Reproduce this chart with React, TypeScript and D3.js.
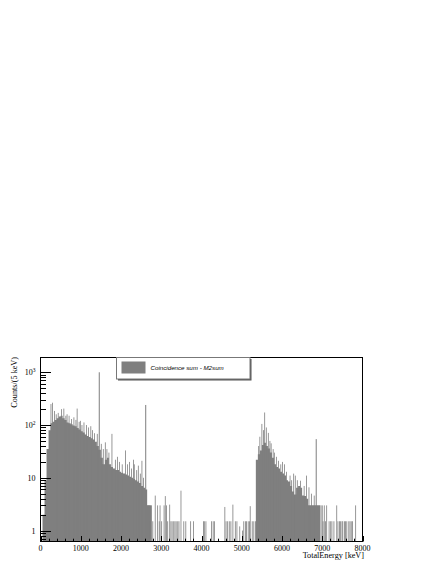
import { useEffect, useRef } from 'react'
import * as d3 from 'd3'

// ── data ──────────────────────────────────────────────────────────────────────
// continuum, 50 keV steps: [bin start keV, counts per 5 keV]
const BULK_LOW: [number, number][] = [
  [50, 2], [100, 9], [150, 35], [200, 80], [250, 108], [300, 115], [350, 125],
  [400, 135], [450, 145], [500, 150], [550, 135], [600, 125], [650, 112],
  [700, 108], [750, 104], [800, 98], [850, 95], [900, 88], [950, 82],
  [1000, 76], [1050, 72], [1100, 66], [1150, 62], [1200, 59], [1250, 56],
  [1300, 53], [1350, 48], [1400, 40], [1450, 34], [1500, 24], [1550, 18],
  [1600, 22], [1650, 24], [1700, 18], [1750, 16], [1800, 15], [1850, 14],
  [1900, 14], [1950, 13], [2000, 12.5], [2050, 12], [2100, 11.5], [2150, 11],
  [2200, 10.5], [2250, 10], [2300, 9.5], [2350, 9], [2400, 8.5], [2450, 8],
  [2500, 7], [2550, 6.5], [2600, 6], [2650, 3], [2700, 3],
]
const BULK_HIGH: [number, number][] = [
  [5350, 22], [5400, 28], [5450, 33], [5500, 42], [5550, 46], [5600, 40],
  [5650, 36], [5700, 30], [5750, 24], [5800, 18], [5850, 16], [5900, 15],
  [5950, 13], [6000, 12], [6050, 11], [6100, 9], [6150, 8.5], [6200, 7],
  [6250, 5.5], [6300, 4.8], [6350, 6.5], [6400, 7], [6450, 6.5], [6500, 4.6],
  [6550, 4.5], [6600, 4], [6650, 3], [6700, 3], [6750, 3], [6800, 3],
  [6850, 3], [6900, 3],
]
// strong lines (K-40, Tl-208, alpha)
const LINES: [number, number][] = [[1460, 1000], [2614, 240], [6850, 54]]
// single-bin fluctuations: [keV, counts]
const SPIKES: [number, number][] = [
  [250, 250], [290, 265], [340, 185], [380, 160], [430, 170], [510, 200],
  [570, 205], [620, 150], [650, 160], [700, 150], [760, 130], [820, 140],
  [870, 125], [900, 205], [950, 115], [980, 120], [1020, 100], [1070, 112],
  [1130, 100], [1180, 90], [1240, 95], [1280, 80], [1330, 70], [1400, 68],
  [1500, 44], [1550, 35], [1600, 47], [1640, 35], [1690, 30], [1765, 68],
  [1850, 22], [1900, 25], [1950, 20], [2020, 18], [2100, 33], [2150, 18],
  [2200, 20], [2250, 15], [2300, 22], [2320, 18], [2380, 14], [2420, 17],
  [2470, 12], [2510, 21], [2550, 10],
  [2660, 3], [2690, 3], [2720, 1.5], [2750, 3], [2780, 1.5], [2840, 4.6],
  [2900, 3], [2940, 1.5], [2960, 3], [3000, 1.5], [3060, 3], [3090, 4.5],
  [3120, 3], [3150, 1.5], [3200, 3.1], [3230, 1.5], [3260, 1.5], [3300, 1.5],
  [3330, 1.5], [3360, 1.5], [3400, 1.5], [3430, 1.5], [3480, 5.7], [3550, 1.5],
  [3600, 1.5], [3720, 1.5], [3790, 1.5], [4040, 1.5], [4060, 1.5], [4100, 1.5],
  [4240, 1.5], [4280, 1.5], [4310, 1.5], [4570, 2.8], [4600, 1.5], [4640, 1.5],
  [4680, 1.5], [4720, 1.5], [4770, 3.1], [4830, 1.5], [4870, 1.5], [4940, 1.2],
  [5010, 1], [5040, 1.5], [5080, 1.5], [5110, 1.5], [5150, 1.5], [5180, 1.5],
  [5200, 2.9], [5250, 1.5], [5290, 1.5], [5330, 1.5],
  [5410, 40], [5440, 60], [5490, 105], [5530, 80], [5560, 173], [5600, 90],
  [5650, 71], [5690, 50], [5720, 45], [5770, 35], [5800, 30], [5850, 25],
  [5900, 21], [5960, 18], [6000, 20], [6050, 18], [6100, 13], [6190, 11],
  [6230, 9], [6280, 12], [6320, 11], [6370, 9], [6450, 8.8], [6540, 7],
  [6600, 11], [6660, 6.6], [6720, 5], [6790, 4.6],
  [6960, 3], [6990, 3], [7010, 1.5], [7040, 3], [7070, 1.5], [7100, 3],
  [7160, 1.5], [7200, 1.5], [7230, 1.5], [7280, 1.5], [7350, 3], [7380, 1.5],
  [7420, 1.5], [7440, 1.5], [7480, 1.5], [7500, 1.5], [7540, 1.5], [7570, 1.5],
  [7600, 1.5], [7650, 1.5], [7680, 1.5], [7710, 1.5], [7740, 1.5], [7820, 3],
]
const X_TICKS = [0, 1000, 2000, 3000, 4000, 5000, 6000, 7000, 8000]
const Y_DECADES = [0, 1, 2, 3]
const LEGEND_LABEL = 'Coincidence sum - M2sum'

const BULK_STEP = 50
const SPIKE_W = 20
const LINE_W = 25
const FILL = '#7f7f7f'
const SERIF = '"Liberation Serif", "Times New Roman", serif'

export default function App() {
  const svgRef = useRef<SVGSVGElement>(null)

  useEffect(() => {
    if (!svgRef.current) return
    const W = 436, H = 564
    const frame = { left: 40.5, right: 362.5, top: 357.5, bottom: 541.5 }

    const svg = d3.select(svgRef.current)
    svg.selectAll('*').remove()
    svg.attr('width', W).attr('height', H)

    const x = d3.scaleLinear().domain([0, 8000]).range([frame.left, frame.right])
    const y = d3.scaleLog().domain([0.62, 1905]).range([frame.bottom, frame.top])

    svg.append('defs').append('clipPath').attr('id', 'plotclip')
      .append('rect')
      .attr('x', frame.left).attr('y', frame.top)
      .attr('width', frame.right - frame.left).attr('height', frame.bottom - frame.top)

    const g = svg.append('g').attr('clip-path', 'url(#plotclip)')

    // continuum as a step area
    const area = d3.area<[number, number]>()
      .x(d => x(d[0]))
      .y0(frame.bottom)
      .y1(d => y(d[1]))
      .curve(d3.curveStepAfter)

    ;[BULK_LOW, BULK_HIGH].forEach(seg => {
      const last = seg[seg.length - 1]
      g.append('path')
        .datum([...seg, [last[0] + BULK_STEP, last[1]] as [number, number]])
        .attr('d', area)
        .attr('fill', FILL)
    })

    // single bins
    SPIKES.forEach(([e, v]) => {
      g.append('rect')
        .attr('x', x(e)).attr('width', x(e + SPIKE_W) - x(e))
        .attr('y', y(v)).attr('height', frame.bottom - y(v))
        .attr('fill', FILL)
    })
    LINES.forEach(([e, v]) => {
      g.append('rect')
        .attr('x', x(e) - (x(LINE_W) - x(0)) / 2).attr('width', x(LINE_W) - x(0))
        .attr('y', y(v)).attr('height', frame.bottom - y(v))
        .attr('fill', FILL)
    })

    // frame
    svg.append('rect')
      .attr('x', frame.left).attr('y', frame.top)
      .attr('width', frame.right - frame.left).attr('height', frame.bottom - frame.top)
      .attr('fill', 'none').attr('stroke', '#000').attr('stroke-width', 1)

    // x ticks (inside, pointing up)
    d3.range(0, 8001, 200).forEach(t => {
      const major = t % 1000 === 0
      svg.append('line')
        .attr('x1', Math.round(x(t)) + 0.5).attr('x2', Math.round(x(t)) + 0.5)
        .attr('y1', frame.bottom).attr('y2', frame.bottom - (major ? 5.5 : 2.8))
        .attr('stroke', '#000').attr('stroke-width', 1)
    })
    X_TICKS.forEach(t => {
      svg.append('text')
        .attr('x', x(t)).attr('y', 550.5)
        .attr('text-anchor', 'middle')
        .attr('font-family', SERIF).attr('font-size', '8px').attr('fill', '#000')
        .text(t)
    })

    // y ticks (log, inside, pointing right)
    const [lo, hi] = y.domain()
    for (let p = -1; p <= 3; p++) {
      for (let k = 1; k <= 9; k++) {
        const v = k * Math.pow(10, p)
        if (v < lo || v > hi) continue
        const yy = Math.round(y(v)) + 0.5
        svg.append('line')
          .attr('x1', frame.left).attr('x2', frame.left + (k === 1 ? 10.5 : 5.5))
          .attr('y1', yy).attr('y2', yy)
          .attr('stroke', '#000').attr('stroke-width', 1)
      }
    }
    Y_DECADES.forEach(p => {
      const t = svg.append('text')
        .attr('x', 35.5).attr('y', y(Math.pow(10, p)) + 3)
        .attr('text-anchor', 'end')
        .attr('font-family', SERIF).attr('font-size', '8px').attr('fill', '#000')
      if (p < 2) {
        t.text(Math.pow(10, p))
      } else {
        t.append('tspan').text('10')
        t.append('tspan').attr('dy', -3.5).attr('font-size', '5.5px').text(p)
      }
    })

    // axis titles
    svg.append('text')
      .attr('transform', `translate(17,${frame.top - 0.5}) rotate(-90)`)
      .attr('text-anchor', 'end')
      .attr('font-family', SERIF).attr('font-size', '8.2px').attr('fill', '#000')
      .text('Counts/(5 keV)')
    svg.append('text')
      .attr('x', 364).attr('y', 558)
      .attr('text-anchor', 'end')
      .attr('font-family', SERIF).attr('font-size', '8.2px').attr('fill', '#000')
      .text('TotalEnergy [keV]')

    // legend
    const lg = { x: 116.5, y: 357.5, w: 133.5, h: 21.5 }
    svg.append('rect')
      .attr('x', lg.x + 1.5).attr('y', lg.y + 1.5).attr('width', lg.w).attr('height', lg.h)
      .attr('fill', '#555')
    svg.append('rect')
      .attr('x', lg.x).attr('y', lg.y).attr('width', lg.w).attr('height', lg.h)
      .attr('fill', '#fff').attr('stroke', '#777').attr('stroke-width', 1)
    svg.append('rect')
      .attr('x', 121.5).attr('y', 361.5).attr('width', 24).attr('height', 12)
      .attr('fill', FILL)
    svg.append('text')
      .attr('x', 150.5).attr('y', 370)
      .attr('font-family', '"Liberation Sans", Arial, sans-serif')
      .attr('font-style', 'italic').attr('font-size', '6.2px').attr('fill', '#000')
      .text(LEGEND_LABEL)
  }, [])

  return (
    <div style={{ position: 'fixed', left: 0, top: 0, width: 436, height: 564, background: '#fff' }}>
      <svg ref={svgRef} style={{ display: 'block' }} />
    </div>
  )
}
